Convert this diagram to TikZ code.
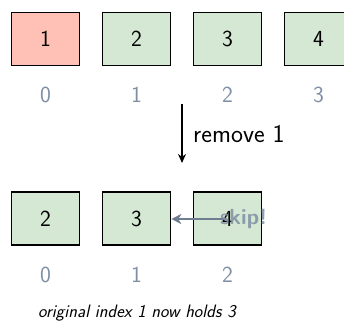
\documentclass[tikz,border=0pt]{standalone}
\usepackage{fontspec}
\usetikzlibrary{arrows.meta}
\definecolor{delfill}{HTML}{FFC1B5}
\definecolor{keepfill}{HTML}{D5E8D4}
\definecolor{idxgray}{HTML}{7F8FA3}
\definecolor{skipgray}{HTML}{6E7E90}
\begin{document}
\begin{tikzpicture}[x=1pt,y=-1pt,
  font=\sffamily\fontsize{23}{27}\selectfont,
  cell/.style={draw=black,line width=1.6pt,minimum width=68pt,minimum height=53pt,inner sep=0pt},
  delcell/.style={cell,fill=delfill},
  keepcell/.style={cell,fill=keepfill},
  idx/.style={text=idxgray,inner sep=0pt},
  ]
\useasboundingbox (0,0) rectangle (344,323);
\begin{scope}
\clip (0,0) rectangle (344,323);
% array before removal
\node[delcell]  (a0) at (45.5,39) {1};
\node[keepcell] (a1) at (136.5,39) {2};
\node[keepcell] (a2) at (227.5,39) {3};
\node[keepcell] (a3) at (318.5,39) {4};
\end{scope}
\node[idx] (i0) at (45.5,95) {0};
\node[idx] (i1) at (136.5,95) {1};
\node[idx] (i2) at (227.5,95) {2};
\node[idx] (i3) at (318.5,95) {3};
% removal step
\coordinate (s0) at (182,104);
\coordinate (s1) at (182,163);
\draw[line width=1.5pt,-{Stealth[length=9pt,width=8pt]}] (s0) -- (s1);
\node[anchor=west,inner sep=0pt,font=\sffamily\fontsize{25.5}{29}\selectfont\addfontfeature{LetterSpace=5}] (lbl) at (193,134) {remove 1};
% array after removal
\node[keepcell] (b0) at (45.5,218.5) {2};
\node[keepcell] (b1) at (136.5,218.5) {3};
\node[keepcell] (b2) at (227.5,218.5) {4};
\node[idx] (j0) at (45.5,275) {0};
\node[idx] (j1) at (136.5,275) {1};
\node[idx] (j2) at (227.5,275) {2};
% shift of the later element
\coordinate (sk) at (226,219);
\draw[skipgray,line width=1.8pt,-{Stealth[length=10pt,width=10pt,inset=3pt]}] (sk) -- (b1.east |- sk);
\node[text=idxgray,text opacity=0.85,font=\sffamily\bfseries\fontsize{22}{26}\selectfont,anchor=west,inner sep=0pt] (skip) at (220,219) {skip!};
% note below
\node[anchor=west,inner sep=0pt,font=\sffamily\itshape\fontsize{18}{21}\selectfont] (note) at (38,313) {original index 1 now holds 3};
\end{tikzpicture}
\end{document}
